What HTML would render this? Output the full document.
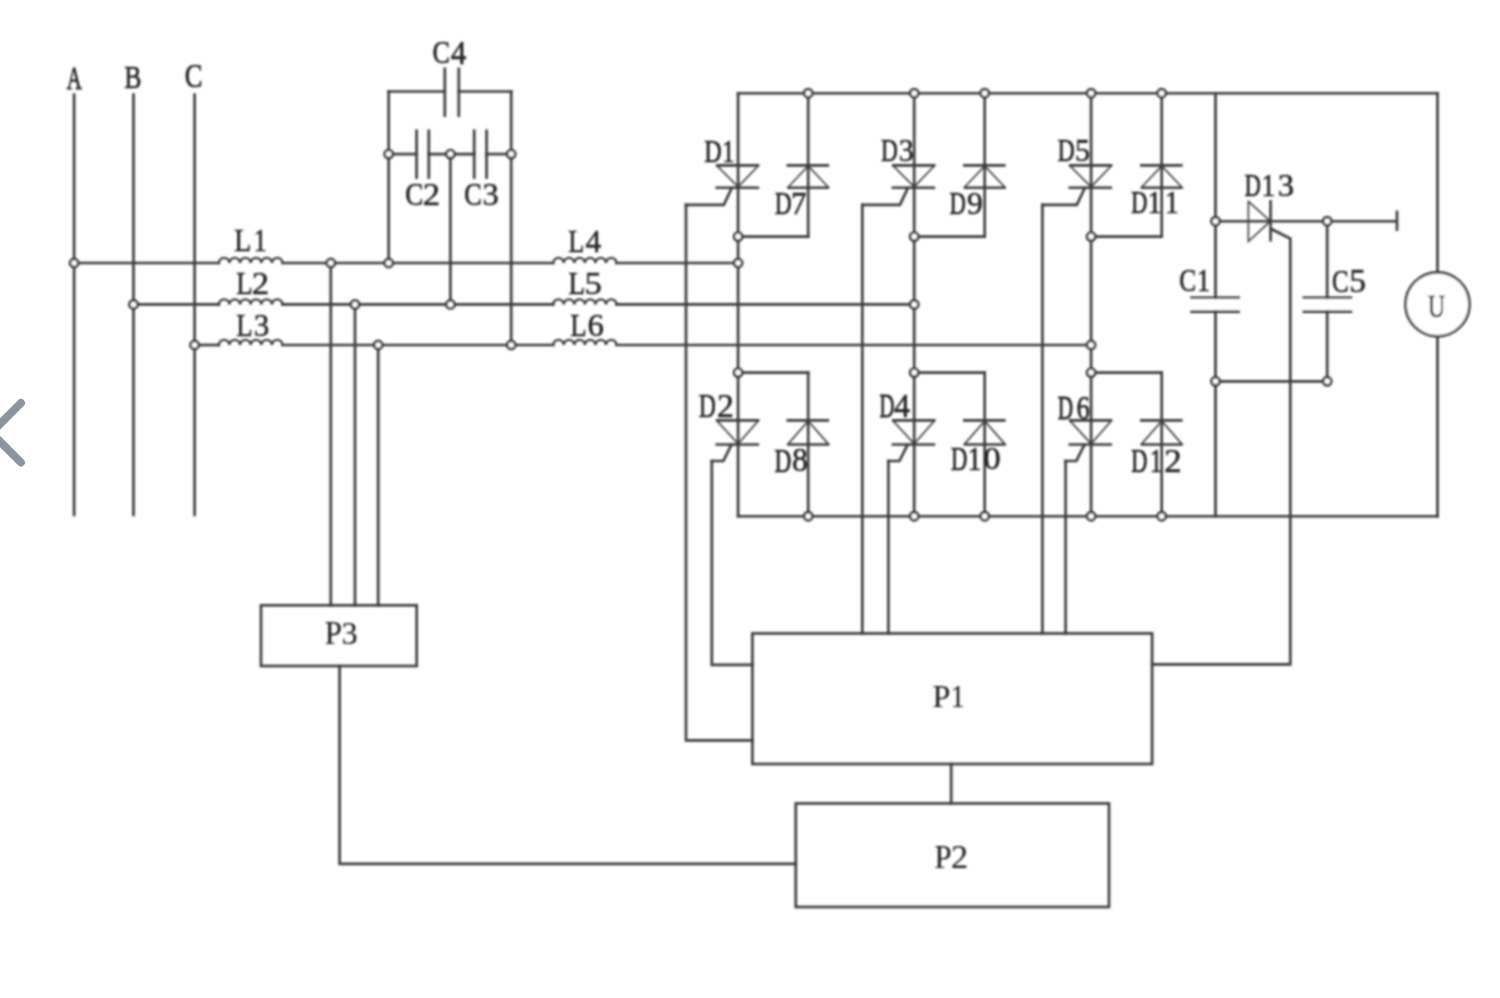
<!DOCTYPE html>
<html><head><meta charset="utf-8"><style>
html,body{margin:0;padding:0;background:#fff;overflow:hidden;}
svg{display:block;}
</style></head><body>
<svg width="1500" height="998" viewBox="0 0 1500 998">
<defs><filter id="bl" x="0" y="0" width="1500" height="998" filterUnits="userSpaceOnUse"><feGaussianBlur stdDeviation="0.8"/></filter></defs>
<rect width="1500" height="998" fill="#fff"/>
<g filter="url(#bl)">
<g fill="none" stroke="#3a3a3a" stroke-width="2.65" stroke-linecap="square">
<line x1="74.10" y1="93.30" x2="74.10" y2="516.20" stroke-linecap="butt"/>
<line x1="133.50" y1="93.30" x2="133.50" y2="516.20" stroke-linecap="butt"/>
<line x1="194.60" y1="93.30" x2="194.60" y2="516.20" stroke-linecap="butt"/>
<line x1="74.10" y1="263.00" x2="218.80" y2="263.00"/>
<path d="M218.80,263.0 C219.40,256.20 228.83,256.20 229.43,263.0 C230.03,256.20 239.47,256.20 240.07,263.0 C240.67,256.20 250.10,256.20 250.70,263.0 C251.30,256.20 260.73,256.20 261.33,263.0 C261.93,256.20 271.37,256.20 271.97,263.0 C272.57,256.20 282.00,256.20 282.60,263.0" stroke-width="2.3"/>
<line x1="282.60" y1="263.00" x2="553.20" y2="263.00"/>
<path d="M553.20,263.0 C553.80,256.20 563.17,256.20 563.77,263.0 C564.37,256.20 573.73,256.20 574.33,263.0 C574.93,256.20 584.30,256.20 584.90,263.0 C585.50,256.20 594.87,256.20 595.47,263.0 C596.07,256.20 605.43,256.20 606.03,263.0 C606.63,256.20 616.00,256.20 616.60,263.0" stroke-width="2.3"/>
<line x1="616.60" y1="263.00" x2="738.10" y2="263.00"/>
<line x1="133.50" y1="304.40" x2="218.80" y2="304.40"/>
<path d="M218.80,304.4 C219.40,297.60 228.83,297.60 229.43,304.4 C230.03,297.60 239.47,297.60 240.07,304.4 C240.67,297.60 250.10,297.60 250.70,304.4 C251.30,297.60 260.73,297.60 261.33,304.4 C261.93,297.60 271.37,297.60 271.97,304.4 C272.57,297.60 282.00,297.60 282.60,304.4" stroke-width="2.3"/>
<line x1="282.60" y1="304.40" x2="553.20" y2="304.40"/>
<path d="M553.20,304.4 C553.80,297.60 563.17,297.60 563.77,304.4 C564.37,297.60 573.73,297.60 574.33,304.4 C574.93,297.60 584.30,297.60 584.90,304.4 C585.50,297.60 594.87,297.60 595.47,304.4 C596.07,297.60 605.43,297.60 606.03,304.4 C606.63,297.60 616.00,297.60 616.60,304.4" stroke-width="2.3"/>
<line x1="616.60" y1="304.40" x2="914.20" y2="304.40"/>
<line x1="194.60" y1="345.00" x2="218.80" y2="345.00"/>
<path d="M218.80,345.0 C219.40,338.20 228.83,338.20 229.43,345.0 C230.03,338.20 239.47,338.20 240.07,345.0 C240.67,338.20 250.10,338.20 250.70,345.0 C251.30,338.20 260.73,338.20 261.33,345.0 C261.93,338.20 271.37,338.20 271.97,345.0 C272.57,338.20 282.00,338.20 282.60,345.0" stroke-width="2.3"/>
<line x1="282.60" y1="345.00" x2="553.20" y2="345.00"/>
<path d="M553.20,345.0 C553.80,338.20 563.17,338.20 563.77,345.0 C564.37,338.20 573.73,338.20 574.33,345.0 C574.93,338.20 584.30,338.20 584.90,345.0 C585.50,338.20 594.87,338.20 595.47,345.0 C596.07,338.20 605.43,338.20 606.03,345.0 C606.63,338.20 616.00,338.20 616.60,345.0" stroke-width="2.3"/>
<line x1="616.60" y1="345.00" x2="1091.10" y2="345.00"/>
<line x1="330.80" y1="263.00" x2="330.80" y2="605.30"/>
<line x1="355.00" y1="304.40" x2="355.00" y2="605.30"/>
<line x1="378.20" y1="345.00" x2="378.20" y2="605.30"/>
<line x1="388.70" y1="91.50" x2="388.70" y2="263.00"/>
<line x1="511.20" y1="91.50" x2="511.20" y2="345.00"/>
<line x1="388.70" y1="91.50" x2="444.80" y2="91.50"/>
<line x1="458.80" y1="91.50" x2="511.20" y2="91.50"/>
<line x1="444.80" y1="67.50" x2="444.80" y2="117.00" stroke-linecap="butt"/>
<line x1="458.80" y1="67.50" x2="458.80" y2="117.00" stroke-linecap="butt"/>
<line x1="388.70" y1="154.10" x2="416.60" y2="154.10"/>
<line x1="428.80" y1="154.10" x2="474.20" y2="154.10"/>
<line x1="486.60" y1="154.10" x2="511.20" y2="154.10"/>
<line x1="416.60" y1="129.40" x2="416.60" y2="178.90" stroke-linecap="butt"/>
<line x1="428.80" y1="129.40" x2="428.80" y2="178.90" stroke-linecap="butt"/>
<line x1="474.20" y1="129.40" x2="474.20" y2="178.90" stroke-linecap="butt"/>
<line x1="486.60" y1="129.40" x2="486.60" y2="178.90" stroke-linecap="butt"/>
<line x1="450.40" y1="154.10" x2="450.40" y2="304.40"/>
<line x1="738.10" y1="93.20" x2="1437.50" y2="93.20"/>
<line x1="738.10" y1="516.20" x2="1437.50" y2="516.20"/>
<line x1="1437.50" y1="93.20" x2="1437.50" y2="272.30"/>
<line x1="1437.50" y1="336.30" x2="1437.50" y2="516.20"/>
<line x1="738.10" y1="93.20" x2="738.10" y2="516.20"/>
<line x1="808.20" y1="93.20" x2="808.20" y2="236.60"/>
<line x1="738.10" y1="236.60" x2="808.20" y2="236.60"/>
<line x1="738.10" y1="372.60" x2="808.20" y2="372.60"/>
<line x1="808.20" y1="372.60" x2="808.20" y2="516.20"/>
<line x1="716.00" y1="165.30" x2="759.10" y2="165.30" stroke-linecap="butt"/>
<line x1="715.50" y1="187.70" x2="759.10" y2="187.70" stroke-linecap="butt"/>
<polyline points="716.50,165.30 738.10,186.90 758.70,165.30" stroke-width="1.6"/>
<line x1="786.50" y1="165.30" x2="829.10" y2="165.30" stroke-linecap="butt"/>
<line x1="787.80" y1="187.70" x2="828.70" y2="187.70" stroke-linecap="butt"/>
<polyline points="787.60,187.70 808.20,165.90 828.80,187.70" stroke-width="1.6"/>
<polyline points="731.70,188.30 723.80,204.90 686.00,204.90"/>
<line x1="716.00" y1="420.40" x2="759.10" y2="420.40" stroke-linecap="butt"/>
<line x1="715.50" y1="444.50" x2="759.10" y2="444.50" stroke-linecap="butt"/>
<polyline points="716.50,420.40 738.10,443.70 758.70,420.40" stroke-width="1.6"/>
<line x1="786.50" y1="420.40" x2="829.10" y2="420.40" stroke-linecap="butt"/>
<line x1="787.80" y1="444.50" x2="828.70" y2="444.50" stroke-linecap="butt"/>
<polyline points="787.60,444.50 808.20,421.00 828.80,444.50" stroke-width="1.6"/>
<polyline points="731.30,445.10 723.30,461.00 711.80,461.00"/>
<line x1="914.20" y1="93.20" x2="914.20" y2="516.20"/>
<line x1="984.70" y1="93.20" x2="984.70" y2="236.60"/>
<line x1="914.20" y1="236.60" x2="984.70" y2="236.60"/>
<line x1="914.20" y1="372.60" x2="984.70" y2="372.60"/>
<line x1="984.70" y1="372.60" x2="984.70" y2="516.20"/>
<line x1="892.10" y1="165.30" x2="935.20" y2="165.30" stroke-linecap="butt"/>
<line x1="891.60" y1="187.70" x2="935.20" y2="187.70" stroke-linecap="butt"/>
<polyline points="892.60,165.30 914.20,186.90 934.80,165.30" stroke-width="1.6"/>
<line x1="963.00" y1="165.30" x2="1005.60" y2="165.30" stroke-linecap="butt"/>
<line x1="964.30" y1="187.70" x2="1005.20" y2="187.70" stroke-linecap="butt"/>
<polyline points="964.10,187.70 984.70,165.90 1005.30,187.70" stroke-width="1.6"/>
<polyline points="907.80,188.30 899.90,204.90 862.30,204.90"/>
<line x1="892.10" y1="420.40" x2="935.20" y2="420.40" stroke-linecap="butt"/>
<line x1="891.60" y1="444.50" x2="935.20" y2="444.50" stroke-linecap="butt"/>
<polyline points="892.60,420.40 914.20,443.70 934.80,420.40" stroke-width="1.6"/>
<line x1="963.00" y1="420.40" x2="1005.60" y2="420.40" stroke-linecap="butt"/>
<line x1="964.30" y1="444.50" x2="1005.20" y2="444.50" stroke-linecap="butt"/>
<polyline points="964.10,444.50 984.70,421.00 1005.30,444.50" stroke-width="1.6"/>
<polyline points="907.40,445.10 899.40,461.00 888.40,461.00"/>
<line x1="1091.10" y1="93.20" x2="1091.10" y2="516.20"/>
<line x1="1161.70" y1="93.20" x2="1161.70" y2="236.60"/>
<line x1="1091.10" y1="236.60" x2="1161.70" y2="236.60"/>
<line x1="1091.10" y1="372.60" x2="1161.70" y2="372.60"/>
<line x1="1161.70" y1="372.60" x2="1161.70" y2="516.20"/>
<line x1="1069.00" y1="165.30" x2="1112.10" y2="165.30" stroke-linecap="butt"/>
<line x1="1068.50" y1="187.70" x2="1112.10" y2="187.70" stroke-linecap="butt"/>
<polyline points="1069.50,165.30 1091.10,186.90 1111.70,165.30" stroke-width="1.6"/>
<line x1="1140.00" y1="165.30" x2="1182.60" y2="165.30" stroke-linecap="butt"/>
<line x1="1141.30" y1="187.70" x2="1182.20" y2="187.70" stroke-linecap="butt"/>
<polyline points="1141.10,187.70 1161.70,165.90 1182.30,187.70" stroke-width="1.6"/>
<polyline points="1084.70,188.30 1076.80,204.90 1042.40,204.90"/>
<line x1="1069.00" y1="420.40" x2="1112.10" y2="420.40" stroke-linecap="butt"/>
<line x1="1068.50" y1="444.50" x2="1112.10" y2="444.50" stroke-linecap="butt"/>
<polyline points="1069.50,420.40 1091.10,443.70 1111.70,420.40" stroke-width="1.6"/>
<line x1="1140.00" y1="420.40" x2="1182.60" y2="420.40" stroke-linecap="butt"/>
<line x1="1141.30" y1="444.50" x2="1182.20" y2="444.50" stroke-linecap="butt"/>
<polyline points="1141.10,444.50 1161.70,421.00 1182.30,444.50" stroke-width="1.6"/>
<polyline points="1084.30,445.10 1076.30,461.00 1065.60,461.00"/>
<rect x="752.4" y="633.4" width="399.70" height="130.60"/>
<polyline points="686.00,204.90 686.00,740.30 752.40,740.30"/>
<polyline points="711.80,461.00 711.80,664.90 752.40,664.90"/>
<line x1="862.30" y1="204.90" x2="862.30" y2="633.40"/>
<line x1="888.40" y1="461.00" x2="888.40" y2="633.40"/>
<line x1="1042.40" y1="204.90" x2="1042.40" y2="633.40"/>
<line x1="1065.60" y1="461.00" x2="1065.60" y2="633.40"/>
<line x1="1215.50" y1="93.20" x2="1215.50" y2="516.20"/>
<line x1="1215.50" y1="221.20" x2="1396.60" y2="221.20"/>
<line x1="1397.00" y1="210.50" x2="1397.00" y2="231.00" stroke-linecap="butt"/>
<polyline points="1248.40,201.40 1248.40,241.50 1270.40,221.20 1248.40,201.40" stroke-width="1.6" stroke-linejoin="miter"/>
<line x1="1270.60" y1="200.00" x2="1270.60" y2="241.50" stroke-linecap="butt"/>
<polyline points="1271.80,229.30 1290.30,238.60 1290.30,664.40 1152.10,664.40"/>
<line x1="1327.20" y1="221.20" x2="1327.20" y2="381.30"/>
<line x1="1215.50" y1="381.30" x2="1327.20" y2="381.30"/>
<rect x="1188" y="299.2" width="54" height="11" fill="#fff" stroke="none"/>
<rect x="1300" y="299.2" width="54" height="11" fill="#fff" stroke="none"/>
<line x1="1190.20" y1="297.70" x2="1240.00" y2="297.70" stroke-linecap="butt"/>
<line x1="1302.40" y1="297.70" x2="1352.30" y2="297.70" stroke-linecap="butt"/>
<line x1="1190.20" y1="311.60" x2="1240.00" y2="311.60" stroke-linecap="butt"/>
<line x1="1302.40" y1="311.60" x2="1352.30" y2="311.60" stroke-linecap="butt"/>
<circle cx="1437.5" cy="304.3" r="32.0" fill="#fff"/>
<rect x="261.0" y="605.3" width="155.70" height="60.70"/>
<rect x="795.8" y="803.4" width="313.20" height="103.60"/>
<polyline points="339.60,666.00 339.60,863.90 795.80,863.90"/>
<line x1="951.20" y1="764.00" x2="951.20" y2="803.40"/>
</g>
<g fill="#fff" stroke="#3a3a3a" stroke-width="2.7"><circle cx="74.1" cy="263.0" r="4.1"/><circle cx="738.1" cy="263.0" r="4.1"/><circle cx="133.5" cy="304.4" r="4.1"/><circle cx="914.2" cy="304.4" r="4.1"/><circle cx="194.6" cy="345.0" r="4.1"/><circle cx="1091.1" cy="345.0" r="4.1"/><circle cx="330.8" cy="263.0" r="4.1"/><circle cx="355.0" cy="304.4" r="4.1"/><circle cx="378.2" cy="345.0" r="4.1"/><circle cx="388.7" cy="154.1" r="4.1"/><circle cx="450.4" cy="154.1" r="4.1"/><circle cx="511.2" cy="154.1" r="4.1"/><circle cx="388.7" cy="263.0" r="4.1"/><circle cx="450.4" cy="304.4" r="4.1"/><circle cx="511.2" cy="345.0" r="4.1"/><circle cx="808.2" cy="93.2" r="4.1"/><circle cx="738.1" cy="236.6" r="4.1"/><circle cx="738.1" cy="372.6" r="4.1"/><circle cx="808.2" cy="516.2" r="4.1"/><circle cx="914.2" cy="93.2" r="4.1"/><circle cx="984.7" cy="93.2" r="4.1"/><circle cx="914.2" cy="236.6" r="4.1"/><circle cx="914.2" cy="372.6" r="4.1"/><circle cx="914.2" cy="516.2" r="4.1"/><circle cx="984.7" cy="516.2" r="4.1"/><circle cx="1091.1" cy="93.2" r="4.1"/><circle cx="1161.7" cy="93.2" r="4.1"/><circle cx="1091.1" cy="236.6" r="4.1"/><circle cx="1091.1" cy="372.6" r="4.1"/><circle cx="1091.1" cy="516.2" r="4.1"/><circle cx="1161.7" cy="516.2" r="4.1"/><circle cx="1215.5" cy="221.2" r="4.1"/><circle cx="1327.2" cy="221.2" r="4.1"/><circle cx="1215.5" cy="381.3" r="4.1"/><circle cx="1327.2" cy="381.3" r="4.1"/></g>
<g font-family="'Liberation Serif', serif" font-size="34" font-weight="normal" fill="#222" stroke="#222">
<text stroke-width="0.816" transform="matrix(0.6125,0,0,0.9375,66.72,88.50)">A</text>
<text stroke-width="0.658" transform="matrix(0.7600,0,0,0.9375,124.14,88.41)">B</text>
<text stroke-width="0.638" transform="matrix(0.7835,0,0,0.9693,184.80,87.31)">C</text>
<text stroke-width="0.615" transform="matrix(0.8136,0,0,0.9417,234.19,250.80)">L</text>
<text stroke-width="0.667" transform="matrix(0.7500,0,0,0.9375,253.75,250.80)">1</text>
<text stroke-width="0.632" transform="matrix(0.7910,0,0,0.9283,236.31,294.40)">L</text>
<text stroke-width="0.489" transform="matrix(1.0221,0,0,0.9200,251.87,294.40)">2</text>
<text stroke-width="0.632" transform="matrix(0.7910,0,0,0.9462,236.31,336.30)">L</text>
<text stroke-width="0.547" transform="matrix(0.9149,0,0,0.9254,253.64,336.02)">3</text>
<text stroke-width="0.651" transform="matrix(0.7684,0,0,0.9148,568.13,251.90)">L</text>
<text stroke-width="0.541" transform="matrix(0.9241,0,0,0.9107,585.55,251.90)">4</text>
<text stroke-width="0.632" transform="matrix(0.7910,0,0,0.9552,568.41,294.40)">L</text>
<text stroke-width="0.489" transform="matrix(1.0219,0,0,0.9425,584.56,294.12)">5</text>
<text stroke-width="0.632" transform="matrix(0.7910,0,0,0.9552,570.31,336.30)">L</text>
<text stroke-width="0.518" transform="matrix(0.9655,0,0,0.9342,587.45,336.02)">6</text>
<text stroke-width="0.651" transform="matrix(0.7680,0,0,0.9518,432.62,63.41)">C</text>
<text stroke-width="0.545" transform="matrix(0.9177,0,0,0.9688,450.76,63.70)">4</text>
<text stroke-width="0.626" transform="matrix(0.7990,0,0,0.9211,405.28,204.72)">C</text>
<text stroke-width="0.489" transform="matrix(1.0221,0,0,0.9333,422.87,205.00)">2</text>
<text stroke-width="0.651" transform="matrix(0.7680,0,0,0.9342,464.32,205.02)">C</text>
<text stroke-width="0.522" transform="matrix(0.9574,0,0,0.9342,482.57,205.02)">3</text>
<text stroke-width="0.707" transform="matrix(0.7072,0,0,0.9420,704.19,161.61)">D</text>
<text stroke-width="0.690" transform="matrix(0.7250,0,0,0.9420,722.33,161.70)">1</text>
<text stroke-width="0.730" transform="matrix(0.6847,0,0,0.9375,774.72,213.91)">D</text>
<text stroke-width="0.552" transform="matrix(0.9058,0,0,0.9417,791.11,214.00)">7</text>
<text stroke-width="0.730" transform="matrix(0.6847,0,0,0.9375,881.02,161.21)">D</text>
<text stroke-width="0.564" transform="matrix(0.8865,0,0,0.9211,898.68,161.02)">3</text>
<text stroke-width="0.750" transform="matrix(0.6667,0,0,0.9509,949.43,214.20)">D</text>
<text stroke-width="0.537" transform="matrix(0.9310,0,0,0.9342,967.08,214.02)">9</text>
<text stroke-width="0.716" transform="matrix(0.6982,0,0,0.9420,1057.40,161.21)">D</text>
<text stroke-width="0.566" transform="matrix(0.8832,0,0,0.9336,1074.93,161.02)">5</text>
<text stroke-width="0.760" transform="matrix(0.6577,0,0,0.9554,1131.14,212.50)">D</text>
<text stroke-width="0.625" transform="matrix(0.8000,0,0,0.9554,1147.80,212.60)">1</text>
<text stroke-width="0.625" transform="matrix(0.8000,0,0,0.9554,1165.00,212.60)">1</text>
<text stroke-width="0.730" transform="matrix(0.6847,0,0,0.9687,699.02,416.90)">D</text>
<text stroke-width="0.504" transform="matrix(0.9926,0,0,0.9644,716.91,417.00)">2</text>
<text stroke-width="0.730" transform="matrix(0.6847,0,0,1.0000,774.42,471.60)">D</text>
<text stroke-width="0.533" transform="matrix(0.9375,0,0,0.9782,791.88,471.41)">8</text>
<text stroke-width="0.822" transform="matrix(0.6081,0,0,0.9687,879.49,416.90)">D</text>
<text stroke-width="0.530" transform="matrix(0.9430,0,0,0.9687,894.04,417.00)">4</text>
<text stroke-width="0.750" transform="matrix(0.6667,0,0,0.9732,950.93,469.50)">D</text>
<text stroke-width="0.625" transform="matrix(0.8000,0,0,0.9732,967.80,469.60)">1</text>
<text stroke-width="0.493" transform="matrix(1.0139,0,0,0.9520,983.48,469.31)">0</text>
<text stroke-width="0.799" transform="matrix(0.6261,0,0,0.9821,1057.87,418.70)">D</text>
<text stroke-width="0.636" transform="matrix(0.7862,0,0,0.9649,1076.62,418.51)">6</text>
<text stroke-width="0.760" transform="matrix(0.6577,0,0,0.9821,1131.14,471.50)">D</text>
<text stroke-width="0.714" transform="matrix(0.7000,0,0,0.9821,1150.10,471.60)">1</text>
<text stroke-width="0.486" transform="matrix(1.0294,0,0,0.9778,1164.26,471.60)">2</text>
<text stroke-width="0.750" transform="matrix(0.6667,0,0,0.9464,1244.53,196.11)">D</text>
<text stroke-width="0.625" transform="matrix(0.8000,0,0,0.9464,1261.60,196.20)">1</text>
<text stroke-width="0.518" transform="matrix(0.9645,0,0,0.9298,1277.66,195.92)">3</text>
<text stroke-width="0.669" transform="matrix(0.7474,0,0,0.9211,1179.35,290.72)">C</text>
<text stroke-width="0.652" transform="matrix(0.7667,0,0,0.9375,1197.10,291.00)">1</text>
<text stroke-width="0.683" transform="matrix(0.7320,0,0,0.9518,1332.08,292.41)">C</text>
<text stroke-width="0.507" transform="matrix(0.9854,0,0,0.9602,1349.13,292.41)">5</text>
<text stroke-width="0.725" transform="matrix(0.6897,0,0,0.9381,1428.02,316.92)">U</text>
<text stroke-width="0.165" transform="matrix(0.9096,0,0,0.9641,324.79,644.10)">P</text>
<text stroke-width="0.158" transform="matrix(0.9504,0,0,0.9430,341.38,643.82)">3</text>
<text stroke-width="0.159" transform="matrix(0.9458,0,0,0.9507,932.55,707.10)">P</text>
<text stroke-width="0.186" transform="matrix(0.8083,0,0,0.9464,950.67,707.10)">1</text>
<text stroke-width="0.166" transform="matrix(0.9036,0,0,0.9776,934.50,867.80)">P</text>
<text stroke-width="0.149" transform="matrix(1.0074,0,0,0.9689,951.09,867.80)">2</text>
</g>
</g>
<path d="M21,403 L-8.75,432.75 L21,462.5" fill="none" stroke="#8f94a1" stroke-width="8" stroke-linecap="round" stroke-linejoin="round"/>
</svg>
</body></html>
